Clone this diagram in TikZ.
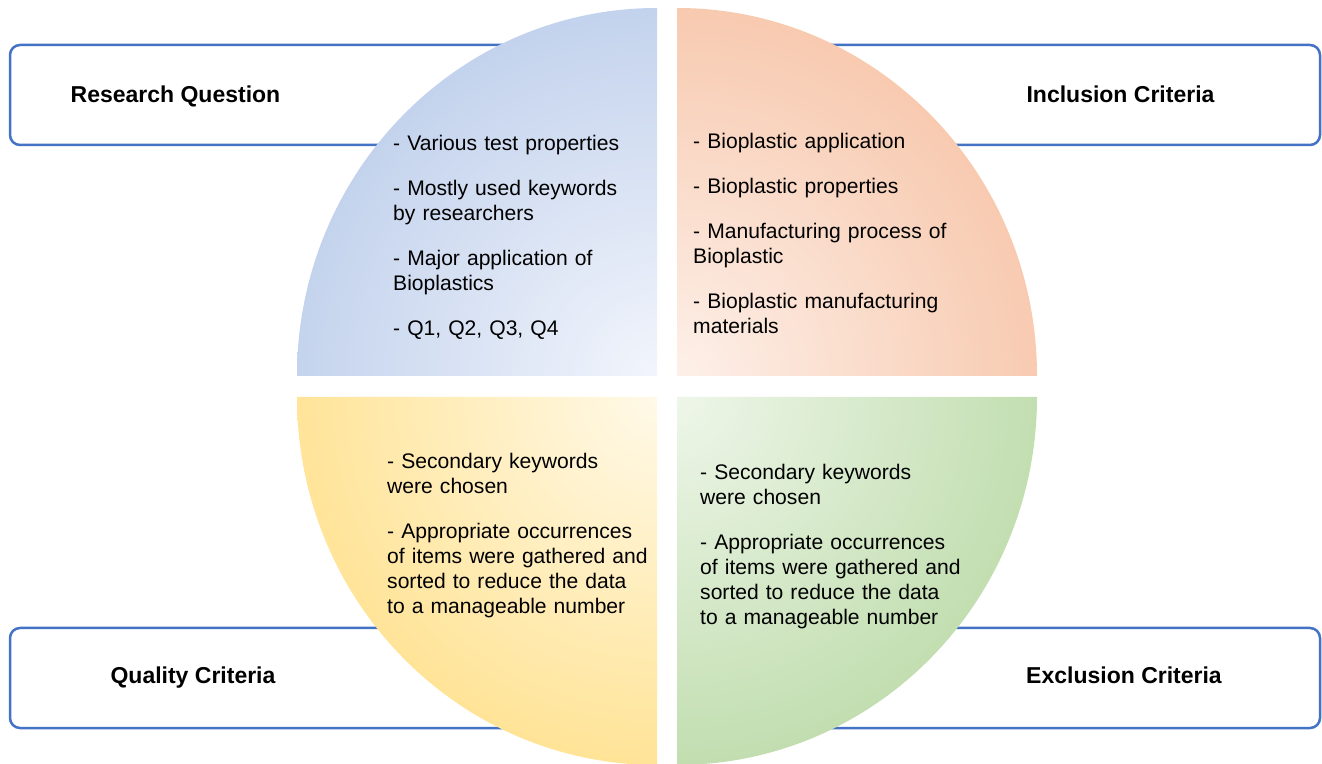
\documentclass[tikz,border=0pt]{standalone}
\usepackage{fontspec}
\setmainfont{Liberation Sans}
\usetikzlibrary{positioning}

\definecolor{boxblue}{RGB}{68,114,196}
\definecolor{rqout}{RGB}{166,189,227}
\definecolor{rqin}{RGB}{242,245,252}
\definecolor{incout}{RGB}{244,178,140}
\definecolor{incin}{RGB}{253,240,233}
\definecolor{qualout}{RGB}{255,214,100}
\definecolor{qualin}{RGB}{255,249,232}
\definecolor{excout}{RGB}{166,207,140}
\definecolor{excin}{RGB}{238,246,233}

\tikzset{
  catbox/.style={draw=boxblue, line width=2.5pt, rounded corners=10pt,
    fill=white, minimum width=550pt, minimum height=100pt, inner sep=0pt},
  cattitle/.style={font=\fontsize{23}{28}\selectfont\bfseries, inner sep=0pt, anchor=base},
  itemtext/.style={font=\fontsize{21.1}{25}\selectfont, align=left, text width=300pt,
    inner sep=0pt, anchor=base west},
}

\begin{document}
\begin{tikzpicture}[x=1pt,y=1pt]
  \useasboundingbox (0,0) rectangle (1322,763);

  % boxes behind the circle
  \node[catbox](rqbox) at (285,668){};
  \node[catbox](incbox) at (1045,668){};
  \node[catbox](qualbox) at (285,85){};
  \node[catbox](excbox) at (1045,85){};

  % quarter circles
  \coordinate (rq) at (657,387);
  \coordinate (inc) at (677,387);
  \coordinate (qual) at (657,366);
  \coordinate (exc) at (677,366);
  \begin{scope}
    \clip (rq) -- ++(-360,0) arc[start angle=180, end angle=90, x radius=360, y radius=368] -- cycle;
    \shade[inner color=rqin, outer color=rqout] (rq) circle[radius=600];
  \end{scope}
  \begin{scope}
    \clip (inc) -- ++(0,368) arc[start angle=90, end angle=0, x radius=360, y radius=368] -- cycle;
    \shade[inner color=incin, outer color=incout] (inc) circle[radius=600];
  \end{scope}
  \begin{scope}
    \clip (qual) -- ++(-360,0) arc[start angle=180, end angle=270, x radius=360, y radius=368] -- cycle;
    \shade[inner color=qualin, outer color=qualout] (qual) circle[radius=600];
  \end{scope}
  \begin{scope}
    \clip (exc) -- ++(360,0) arc[start angle=0, end angle=-90, x radius=360, y radius=368] -- cycle;
    \shade[inner color=excin, outer color=excout] (exc) circle[radius=600];
  \end{scope}

  % titles
  \node[cattitle](rqtitle) at (175.5,660){Research Question};
  \node[cattitle](inctitle) at (1120.5,660){Inclusion Criteria};
  \node[cattitle](qualtitle) at (193,80){Quality Criteria};
  \node[cattitle](exctitle) at (1124,80){Exclusion Criteria};

  % items
  \node[itemtext](rqitems) at (393,612){- Various test properties\\[20pt]
    - Mostly used keywords\\ by researchers\\[20pt]
    - Major application of\\ Bioplastics\\[20pt]
    - Q1, Q2, Q3, Q4};
  \node[itemtext](incitems) at (693,614){- Bioplastic application\\[20pt]
    - Bioplastic properties\\[20pt]
    - Manufacturing process of\\ Bioplastic\\[20pt]
    - Bioplastic manufacturing\\ materials};
  \node[itemtext](qualitems) at (387,294){- Secondary keywords\\ were chosen\\[20pt]
    - Appropriate occurrences\\ of items were gathered and\\ sorted to reduce the data\\ to a manageable number};
  \node[itemtext](excitems) at (700,283){- Secondary keywords\\ were chosen\\[20pt]
    - Appropriate occurrences\\ of items were gathered and\\ sorted to reduce the data\\ to a manageable number};
\end{tikzpicture}
\end{document}
